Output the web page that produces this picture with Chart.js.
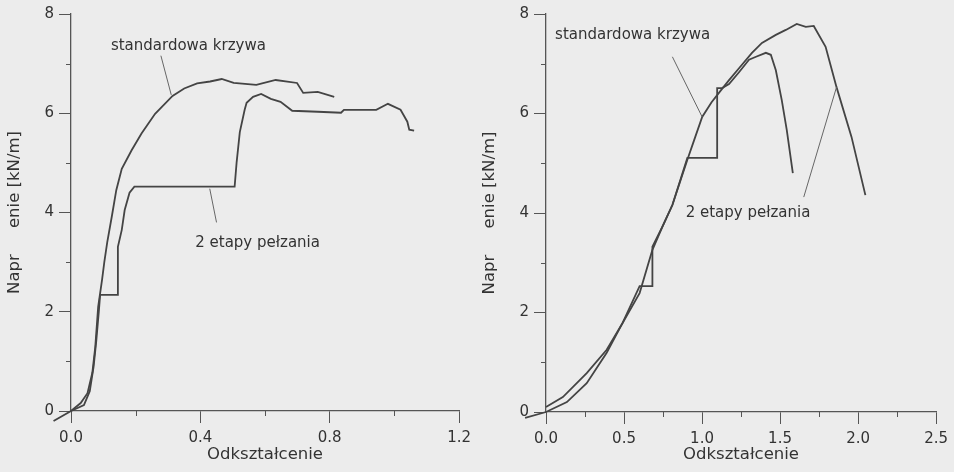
<!DOCTYPE html>
<html>
<head>
<meta charset="utf-8">
<script src="https://cdn.jsdelivr.net/npm/chart.js@4/dist/chart.umd.min.js"></script>
<style>
  html, body { margin: 0; padding: 0; background: #ececec; }
  #wrap { position: relative; width: 954px; height: 472px; }
  .panel { position: absolute; top: 0; width: 477px; height: 472px; }
  #left { left: 0; }
  #right { left: 477px; }
</style>
</head>
<body>
<div id="wrap">
  <div class="panel" id="left"><canvas id="chart-left"></canvas></div>
  <div class="panel" id="right"><canvas id="chart-right"></canvas></div>
</div>
<script>
// labelled ticks (the rest are short unlabelled minor ticks)
const yLabels = [0, 2, 4, 6, 8];
const leftXLabels = [0.0, 0.4, 0.8, 1.2];
const rightXLabels = [0.0, 0.5, 1.0, 1.5, 2.0, 2.5];

// left panel -- standard curve
const leftStdX = [-0.054, 0, 0.030, 0.051, 0.066, 0.075, 0.084, 0.096, 0.103, 0.112, 0.127, 0.140, 0.157, 0.187, 0.218, 0.26, 0.314, 0.35, 0.39, 0.43, 0.466, 0.503, 0.573, 0.633, 0.699, 0.718, 0.763, 0.814];
const leftStdY = [-0.2, 0, 0.16, 0.36, 0.77, 1.29, 2.10, 2.64, 3.0, 3.4, 3.95, 4.45, 4.88, 5.25, 5.59, 5.99, 6.35, 6.50, 6.60, 6.64, 6.69, 6.61, 6.57, 6.67, 6.61, 6.41, 6.43, 6.33];
// left panel -- 2 creep stages
const leftCreepX = [0, 0.04, 0.058, 0.07, 0.078, 0.086, 0.090, 0.145, 0.145, 0.157, 0.166, 0.181, 0.196, 0.506, 0.512, 0.522, 0.537, 0.543, 0.563, 0.588, 0.618, 0.648, 0.684, 0.763, 0.835, 0.844, 0.944, 0.980, 1.019, 1.040, 1.046, 1.061];
const leftCreepY = [0, 0.12, 0.4, 0.9, 1.4, 2.0, 2.34, 2.34, 3.31, 3.65, 4.05, 4.40, 4.52, 4.52, 5.0, 5.62, 6.07, 6.21, 6.33, 6.39, 6.29, 6.23, 6.05, 6.03, 6.01, 6.07, 6.07, 6.19, 6.07, 5.83, 5.67, 5.65];

// right panel -- standard curve
const rightStdX = [0, 0.108, 0.261, 0.389, 0.491, 0.60, 0.682, 0.75, 0.81, 0.906, 0.95, 1.001, 1.06, 1.122, 1.173, 1.237, 1.32, 1.384, 1.473, 1.537, 1.607, 1.665, 1.716, 1.792, 1.862, 1.958, 2.047];
const rightStdY = [0.1, 0.30, 0.78, 1.25, 1.79, 2.39, 3.26, 3.75, 4.16, 5.07, 5.47, 5.93, 6.22, 6.47, 6.67, 6.91, 7.22, 7.42, 7.58, 7.68, 7.80, 7.74, 7.76, 7.34, 6.53, 5.53, 4.36];
// right panel -- 2 creep stages
const rightCreepX = [-0.134, 0, 0.134, 0.261, 0.389, 0.491, 0.60, 0.682, 0.682, 0.75, 0.81, 0.906, 1.097, 1.097, 1.129, 1.173, 1.237, 1.301, 1.346, 1.409, 1.441, 1.473, 1.511, 1.543, 1.582];
const rightCreepY = [-0.12, 0, 0.2, 0.58, 1.19, 1.79, 2.53, 2.53, 3.32, 3.75, 4.16, 5.11, 5.11, 6.51, 6.51, 6.59, 6.83, 7.08, 7.14, 7.22, 7.18, 6.87, 6.27, 5.67, 4.80];

const STD_LABEL = 'standardowa krzywa';
const CREEP_LABEL = '2 etapy pełzania';

const INK = '#444';
const AXIS = '#555';
const TEXT = '#333';

Chart.defaults.font.family = '"DejaVu Sans", "Liberation Sans", sans-serif';
Chart.defaults.color = TEXT;

const zip = (xs, ys) => xs.map((x, i) => ({ x, y: ys[i] }));
const inList = (list, v) => list.some(l => Math.abs(l - v) < 1e-6);

function curve(label, xs, ys) {
  return {
    label,
    data: zip(xs, ys),
    borderColor: INK,
    borderWidth: 1.8,
    pointRadius: 0,
    tension: 0,
    clip: false,
  };
}

// short unlabelled ticks between the labelled ones
const minorTicks = {
  id: 'minorTicks',
  afterDraw(chart) {
    const { ctx, scales: { x, y } } = chart;
    ctx.save();
    ctx.strokeStyle = AXIS;
    ctx.lineWidth = 1;
    x.ticks.forEach(t => {
      if (t.label !== '') return;
      const px = Math.round(x.getPixelForValue(t.value)) + 0.5;
      ctx.beginPath(); ctx.moveTo(px, x.top); ctx.lineTo(px, x.top + 5); ctx.stroke();
    });
    y.ticks.forEach(t => {
      if (t.label !== '') return;
      const py = Math.round(y.getPixelForValue(t.value)) + 0.5;
      ctx.beginPath(); ctx.moveTo(y.right - 5, py); ctx.lineTo(y.right, py); ctx.stroke();
    });
    ctx.restore();
  },
};

// curve labels with their leader lines, placed in data units
const notes = {
  id: 'notes',
  afterDatasetsDraw(chart, args, opts) {
    const { ctx, scales: { x, y } } = chart;
    ctx.save();
    ctx.font = '15px "DejaVu Sans", sans-serif';
    ctx.fillStyle = TEXT;
    ctx.textAlign = 'center';
    ctx.textBaseline = 'middle';
    ctx.strokeStyle = '#666';
    ctx.lineWidth = 1;
    (opts.items || []).forEach(n => {
      ctx.fillText(n.text, x.getPixelForValue(n.at[0]), y.getPixelForValue(n.at[1]));
      (n.leaders || []).forEach(l => {
        ctx.beginPath();
        ctx.moveTo(x.getPixelForValue(l[0]), y.getPixelForValue(l[1]));
        ctx.lineTo(x.getPixelForValue(l[2]), y.getPixelForValue(l[3]));
        ctx.stroke();
      });
    });
    ctx.restore();
  },
};

function makePanel(canvasId, p) {
  return new Chart(document.getElementById(canvasId), {
    type: 'line',
    data: {
      datasets: [
        curve(STD_LABEL, p.stdX, p.stdY),
        curve(CREEP_LABEL, p.creepX, p.creepY),
      ],
    },
    plugins: [minorTicks, notes],
    options: {
      responsive: true,
      maintainAspectRatio: false,
      animation: false,
      events: [],
      layout: { padding: { top: p.top, right: p.right, left: 0, bottom: 0 } },
      scales: {
        x: {
          type: 'linear',
          min: 0,
          max: p.xMax,
          afterFit: s => { s.height = p.xHeight; },
          ticks: {
            stepSize: p.xStep,
            autoSkip: false,
            maxRotation: 0,
            padding: 6,
            font: { size: 15 },
            color: TEXT,
            callback: v => (inList(p.xLabels, v) ? v.toFixed(1) : ''),
          },
          grid: {
            drawOnChartArea: false,
            tickLength: 12,
            tickColor: c => (c.tick && inList(p.xLabels, c.tick.value) ? AXIS : 'rgba(0,0,0,0)'),
          },
          border: { display: true, color: AXIS, width: 1.3 },
          title: {
            display: true,
            text: 'Odkształcenie',
            color: TEXT,
            font: { size: 16.5 },
            padding: { top: 0, bottom: 7 },
          },
        },
        y: {
          min: 0,
          max: 8,
          afterFit: s => { s.width = p.yWidth; },
          ticks: {
            stepSize: 1,
            padding: 5,
            font: { size: 15 },
            color: TEXT,
            callback: v => (inList(yLabels, v) ? String(v) : ''),
          },
          grid: {
            drawOnChartArea: false,
            tickLength: 12,
            tickColor: c => (c.tick && inList(yLabels, c.tick.value) ? AXIS : 'rgba(0,0,0,0)'),
          },
          border: { display: true, color: AXIS, width: 1.3 },
          title: {
            display: true,
            text: 'Napr     enie [kN/m]',
            color: TEXT,
            font: { size: 16.5 },
            padding: { top: p.yTitlePad, bottom: 0 },
          },
        },
      },
      plugins: {
        legend: { display: false },
        tooltip: { enabled: false },
        notes: { items: p.notes },
      },
    },
  });
}

makePanel('chart-left', {
  stdX: leftStdX, stdY: leftStdY, creepX: leftCreepX, creepY: leftCreepY,
  xMax: 1.2, xStep: 0.2, xLabels: leftXLabels,
  top: 13, right: 9, xHeight: 61, yWidth: 71, yTitlePad: 5,
  notes: [
    { text: STD_LABEL, at: [0.363, 7.36], leaders: [[0.278, 7.16, 0.31, 6.37]] },
    { text: CREEP_LABEL, at: [0.577, 3.38], leaders: [[0.429, 4.48, 0.45, 3.80]] },
  ],
});

makePanel('chart-right', {
  stdX: rightStdX, stdY: rightStdY, creepX: rightCreepX, creepY: rightCreepY,
  xMax: 2.5, xStep: 0.25, xLabels: rightXLabels,
  top: 14, right: 16, xHeight: 60, yWidth: 69, yTitlePad: 3,
  notes: [
    { text: STD_LABEL, at: [0.555, 7.58], leaders: [[0.81, 7.14, 1.001, 5.93]] },
    { text: CREEP_LABEL, at: [1.295, 4.0], leaders: [[1.652, 4.32, 1.862, 6.53]] },
  ],
});
</script>
</body>
</html>
